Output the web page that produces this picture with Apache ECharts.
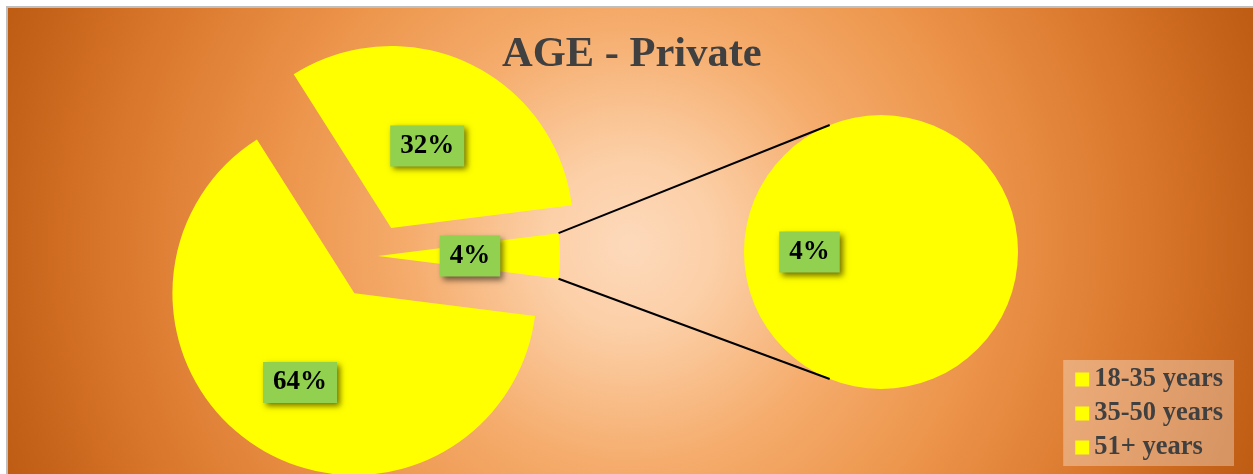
<!DOCTYPE html>
<html>
<head>
<meta charset="utf-8">
<script src="https://cdn.jsdelivr.net/npm/echarts@6/dist/echarts.min.js"></script>
<style>
  html, body { margin: 0; padding: 0; background: #ffffff; }
  #chart { width: 1253px; height: 474px; }
</style>
</head>
<body>
<div id="chart"></div>
<script>
// ---- data ----
const titleText = 'AGE - Private';
const categories = ['18-35 years', '35-50 years', '51+ years'];
const values = [64, 32, 4];
// the last category is split out into the secondary pie
const secondaryNames = ['51+ years'];
const secondaryValues = [4];

// ---- layout / style ----
const mainCenter = [378, 256];
const mainRadius = 182;
const explode = [44, 31, 0];
const labelShift = [[-4, 10], [-4, 3], [-2, 0]];
const secCenter = [881, 252];
const secRadius = 137;
const connectorAngle = 68; // degrees from the left direction on the secondary pie
const sliceColor = '#ffff00';
const font = '"Liberation Serif", "Times New Roman", serif';

const total = values.reduce((a, b) => a + b, 0);
const otherIdx = values.length - 1;
const otherHalf = values[otherIdx] / total * 360 / 2;
const startAngle = 360 - otherHalf;

const labelStyle = {
  show: true,
  position: 'inside',
  color: '#000000',
  fontFamily: font,
  fontWeight: 'bold',
  fontSize: 27,
  lineHeight: 27,
  backgroundColor: '#92d050',
  padding: [8, 10, 6, 10],
  shadowColor: 'rgba(0,0,0,0.55)',
  shadowBlur: 6,
  shadowOffsetX: 3,
  shadowOffsetY: 3
};

function pct(v) { return Math.round(v / total * 100) + '%'; }

const series = [];
let cum = 0;
values.forEach((v, i) => {
  const mid = (startAngle - (cum + v / 2) / total * 360) * Math.PI / 180;
  cum += v;
  const cx = mainCenter[0] + explode[i] * Math.cos(mid);
  const cy = mainCenter[1] - explode[i] * Math.sin(mid);
  series.push({
    type: 'pie',
    silent: true,
    center: [cx, cy],
    radius: [0, mainRadius],
    startAngle: startAngle,
    clockwise: true,
    avoidLabelOverlap: false,
    emphasis: { disabled: true },
    labelLine: { show: false },
    labelLayout: { dx: labelShift[i][0], dy: labelShift[i][1] },
    data: categories.map((name, j) => ({
      name: name,
      value: values[j],
      itemStyle: { color: j === i ? sliceColor : 'rgba(0,0,0,0)' },
      label: j === i ? Object.assign({}, labelStyle, { formatter: () => pct(values[j]) }) : { show: false }
    }))
  });
});

series.push({
  type: 'pie',
  silent: true,
  center: secCenter,
  radius: [0, secRadius],
  startAngle: 0,
  clockwise: true,
  emphasis: { disabled: true },
  labelLine: { show: false },
  data: secondaryNames.map((name, j) => ({
    name: name,
    value: secondaryValues[j],
    itemStyle: { color: sliceColor },
    label: Object.assign({}, labelStyle, { formatter: () => pct(secondaryValues[j]) })
  }))
});

// connector lines from the "other" slice edges to the secondary pie
const halfRad = otherHalf * Math.PI / 180;
const cAng = connectorAngle * Math.PI / 180;
const p1 = [mainCenter[0] + mainRadius * Math.cos(halfRad), mainCenter[1] - mainRadius * Math.sin(halfRad)];
const p2 = [mainCenter[0] + mainRadius * Math.cos(halfRad), mainCenter[1] + mainRadius * Math.sin(halfRad)];
const q1 = [secCenter[0] - secRadius * Math.cos(cAng), secCenter[1] - secRadius * Math.sin(cAng)];
const q2 = [secCenter[0] - secRadius * Math.cos(cAng), secCenter[1] + secRadius * Math.sin(cAng)];

const chart = echarts.init(document.getElementById('chart'), null, { renderer: 'canvas' });
chart.setOption({
  animation: false,
  title: {
    text: titleText,
    left: 497,
    top: 29,
    textStyle: { fontFamily: font, fontWeight: 'bold', fontSize: 42.5, color: '#404040' }
  },
  legend: {
    orient: 'vertical',
    right: 19,
    top: 360,
    data: categories,
    icon: 'rect',
    itemWidth: 14,
    itemHeight: 14,
    itemGap: 7,
    padding: [6, 11, 5, 12],
    backgroundColor: 'rgba(255,255,255,0.33)',
    itemStyle: { color: sliceColor, borderWidth: 0 },
    selectedMode: false,
    textStyle: { fontFamily: font, fontWeight: 'bold', fontSize: 26.5, lineHeight: 24, color: '#404040' }
  },
  graphic: [
    {
      type: 'rect',
      z: -100,
      silent: true,
      shape: { x: 7, y: 7, width: 1400, height: 600 },
      style: {
        fill: {
          type: 'radial', x: 630, y: 245, r: 690, global: true,
          colorStops: [
            { offset: 0, color: '#fdd9bb' },
            { offset: 0.12, color: '#fcd0a8' },
            { offset: 0.32, color: '#f5ac6c' },
            { offset: 0.52, color: '#ec944a' },
            { offset: 0.75, color: '#d9772c' },
            { offset: 0.9, color: '#c6631a' },
            { offset: 1, color: '#bb5810' }
          ]
        },
        stroke: '#bfbfbf',
        lineWidth: 2
      }
    },
    {
      type: 'line', z: 100, silent: true,
      shape: { x1: p1[0], y1: p1[1], x2: q1[0], y2: q1[1] },
      style: { stroke: '#000000', lineWidth: 2 }
    },
    {
      type: 'line', z: 100, silent: true,
      shape: { x1: p2[0], y1: p2[1], x2: q2[0], y2: q2[1] },
      style: { stroke: '#000000', lineWidth: 2 }
    }
  ],
  series: series
});
</script>
</body>
</html>
